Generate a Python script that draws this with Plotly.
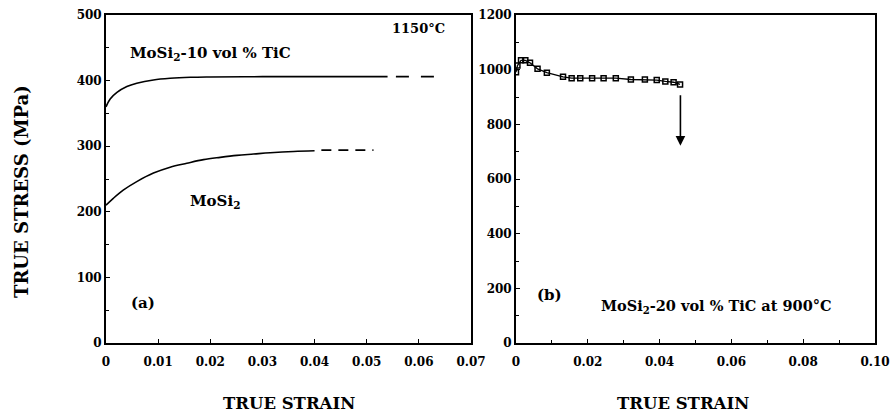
import plotly.graph_objects as go

# ---- Panel (a) data: 1150 C ----
tic10_strain = [0.0, 0.0008, 0.0021, 0.004, 0.0059, 0.0091, 0.0123, 0.0162, 0.020, 0.030, 0.040, 0.054]
tic10_stress = [360, 372, 382, 391, 396, 401, 403.5, 405, 405.5, 406, 406, 406]
tic10_dash_strain = [0.0556, 0.0643]
tic10_dash_stress = [406, 406]

mosi2_strain = [0.0, 0.0014, 0.0033, 0.0059, 0.0091, 0.0123, 0.0155, 0.0187, 0.0219, 0.0251, 0.0283, 0.0315, 0.036, 0.040]
mosi2_stress = [210, 220.5, 233, 246, 259, 268, 274, 279.5, 283, 286, 288, 290, 292, 293]
mosi2_dash_strain = [0.0413, 0.0513]
mosi2_dash_stress = [294, 294]

# ---- Panel (b) data: MoSi2-20 vol% TiC at 900 C ----
tic20_strain = [0.0, 0.0004, 0.0014, 0.0026, 0.0039, 0.006, 0.0086, 0.0131, 0.0155, 0.0179,
                0.0212, 0.0244, 0.0278, 0.032, 0.0359, 0.0392, 0.0416, 0.0439, 0.0457]
tic20_stress = [991, 1015, 1034, 1034, 1025, 1003, 989, 974, 969, 969,
                969, 969, 969, 964, 964, 962, 957, 954, 946]
fracture_strain = 0.0458
fracture_from = 912
fracture_to = 722

# ---- Axis ticks ----
xa_ticks = [0, 0.01, 0.02, 0.03, 0.04, 0.05, 0.06, 0.07]
xa_labels = ["0", "0.01", "0.02", "0.03", "0.04", "0.05", "0.06", "0.07"]
ya_ticks = [0, 100, 200, 300, 400, 500]
xb_ticks = [0, 0.02, 0.04, 0.06, 0.08, 0.10]
xb_labels = ["0", "0.02", "0.04", "0.06", "0.08", "0.10"]
yb_ticks = [0, 200, 400, 600, 800, 1000, 1200]

FONT = "DejaVu Serif"
W, H = 891, 417

fig = go.Figure()
line = dict(color="black", width=1.6)

fig.add_trace(go.Scatter(x=tic10_strain, y=tic10_stress, mode="lines", line=dict(line, shape="spline"),
                         xaxis="x", yaxis="y", showlegend=False))
fig.add_trace(go.Scatter(x=tic10_dash_strain, y=tic10_dash_stress, mode="lines",
                         line=dict(color="black", width=1.6, dash="13px,12px"),
                         xaxis="x", yaxis="y", showlegend=False))
fig.add_trace(go.Scatter(x=mosi2_strain, y=mosi2_stress, mode="lines", line=dict(line, shape="spline"),
                         xaxis="x", yaxis="y", showlegend=False))
fig.add_trace(go.Scatter(x=mosi2_dash_strain, y=mosi2_dash_stress, mode="lines",
                         line=dict(color="black", width=1.6, dash="10px,7px"),
                         xaxis="x", yaxis="y", showlegend=False))
fig.add_trace(go.Scatter(x=tic20_strain, y=tic20_stress, mode="lines+markers",
                         line=dict(color="black", width=1.3),
                         marker=dict(symbol="square-open", size=5, color="black", line=dict(width=1.5)),
                         xaxis="x2", yaxis="y2", showlegend=False))

def px_x(px):
    return px / W

def px_y(py):
    return 1 - py / H

xtickfont = dict(family=FONT, size=12, color="black", weight="bold")
ytickfont = dict(family=FONT, size=12, color="black", weight="bold")
common = dict(showline=True, linecolor="black", linewidth=1.8, mirror=True, ticks="inside",
              ticklen=4, tickwidth=1.2, tickcolor="black", showgrid=False, zeroline=False,
              automargin=False, ticklabeloverflow="allow")

fig.update_layout(
    width=W, height=H,
    margin=dict(l=0, r=0, t=0, b=0, autoexpand=False),
    paper_bgcolor="white", plot_bgcolor="white",
    hovermode=False,
    xaxis=dict(common, domain=[px_x(106), px_x(471)], range=[0, 0.07], tickvals=xa_ticks,
               ticktext=xa_labels, anchor="y", tickfont=xtickfont, ticklabelstandoff=7),
    yaxis=dict(common, domain=[px_y(343), px_y(15)], range=[0, 500], tickvals=ya_ticks,
               anchor="x", tickfont=ytickfont,
               minor=dict(dtick=50, ticks="inside", ticklen=3, tickcolor="black")),
    xaxis2=dict(common, domain=[px_x(516), px_x(875)], range=[0, 0.10], tickvals=xb_ticks,
                ticktext=xb_labels, anchor="y2", tickfont=xtickfont, ticklabelstandoff=7,
                minor=dict(dtick=0.01, ticks="inside", ticklen=3, tickcolor="black")),
    yaxis2=dict(common, domain=[px_y(343), px_y(15)], range=[0, 1200], tickvals=yb_ticks,
                anchor="x2", tickfont=ytickfont,
                minor=dict(dtick=100, ticks="inside", ticklen=3, tickcolor="black")),
)

def txt(size):
    return dict(family=FONT, size=size, color="black", weight="bold")

ann = []
ann.append(dict(text="MoSi<sub>2</sub>-10 vol % TiC", x=0.0042, y=442, xref="x", yref="y",
                xanchor="left", yanchor="middle", showarrow=False, font=txt(15)))
ann.append(dict(text="1150°C", x=0.0600, y=480, xref="x", yref="y",
                xanchor="center", yanchor="middle", showarrow=False, font=txt(13)))
ann.append(dict(text="MoSi<sub>2</sub>", x=0.0157, y=215, xref="x", yref="y",
                xanchor="left", yanchor="middle", showarrow=False, font=txt(15)))
ann.append(dict(text="(a)", x=0.0044, y=61, xref="x", yref="y",
                xanchor="left", yanchor="middle", showarrow=False, font=txt(15)))
ann.append(dict(text="(b)", x=0.0052, y=177, xref="x2", yref="y2",
                xanchor="left", yanchor="middle", showarrow=False, font=txt(15)))
ann.append(dict(text="MoSi<sub>2</sub>-20 vol % TiC at 900°C", x=0.0232, y=133, xref="x2", yref="y2",
                xanchor="left", yanchor="middle", showarrow=False, font=txt(14.5)))
ann.append(dict(text="", x=fracture_strain, y=fracture_to, ax=fracture_strain, ay=fracture_from,
                xref="x2", yref="y2", axref="x2", ayref="y2", showarrow=True,
                arrowhead=2, arrowsize=1.2, arrowwidth=1.6, arrowcolor="black"))
ann.append(dict(text="TRUE STRESS (MPa)", x=px_x(21), y=px_y(192), xref="paper", yref="paper",
                textangle=-90, xanchor="center", yanchor="middle", showarrow=False, font=txt(18)))
ann.append(dict(text="TRUE STRAIN", x=px_x(289), y=px_y(403), xref="paper", yref="paper",
                xanchor="center", yanchor="middle", showarrow=False, font=txt(16.5)))
ann.append(dict(text="TRUE STRAIN", x=px_x(683), y=px_y(403), xref="paper", yref="paper",
                xanchor="center", yanchor="middle", showarrow=False, font=txt(16.5)))
fig.update_layout(annotations=ann)

fig.write_html("out.html", config={"displayModeBar": False},
               post_script="document.body.style.margin='0';document.body.style.padding='0';")
